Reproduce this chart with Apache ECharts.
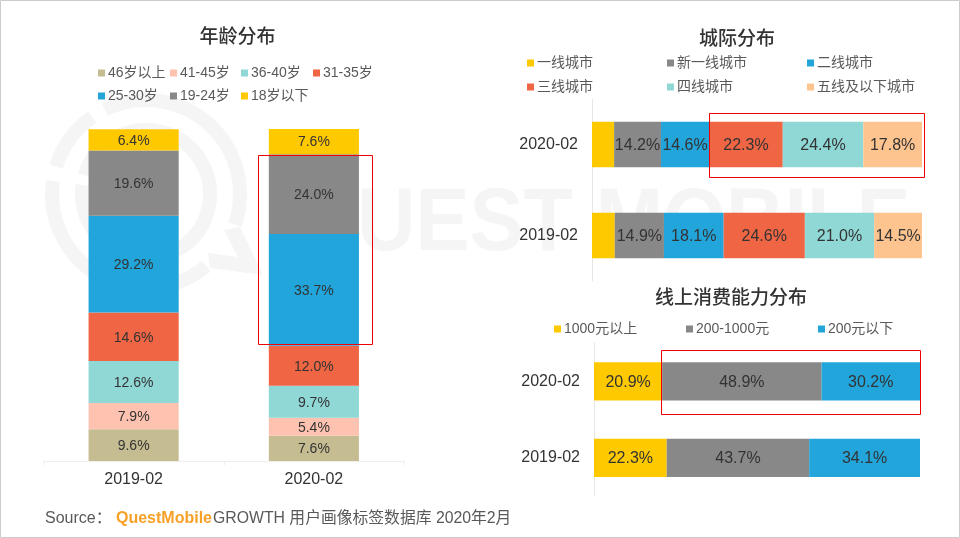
<!DOCTYPE html>
<html>
<head>
<meta charset="utf-8">
<title>用户画像</title>
<style>
  html, body { margin: 0; padding: 0; background: #fff; }
  #main { width: 960px; height: 538px; }
</style>
<script src="https://cdn.jsdelivr.net/npm/echarts@6/dist/echarts.min.js"></script>
</head>
<body>
<div id="main"></div>
<script>
// data
const ageCategories = ['2019-02', '2020-02']
const ageNames = ['46岁以上', '41-45岁', '36-40岁', '31-35岁', '25-30岁', '19-24岁', '18岁以下']
const age46 = [9.6, 7.6]
const age41 = [7.9, 5.4]
const age36 = [12.6, 9.7]
const age31 = [14.6, 12.0]
const age25 = [29.2, 33.7]
const age19 = [19.6, 24.0]
const age18 = [6.4, 7.6]

const cityCategories = ['2019-02', '2020-02']
const cityNames = ['一线城市', '新一线城市', '二线城市', '三线城市', '四线城市', '五线及以下城市']
const cityTier1 = [6.9, 6.7]
const cityNewTier1 = [14.9, 14.2]
const cityTier2 = [18.1, 14.6]
const cityTier3 = [24.6, 22.3]
const cityTier4 = [21.0, 24.4]
const cityTier5 = [14.5, 17.8]

const spendCategories = ['2019-02', '2020-02']
const spendNames = ['1000元以上', '200-1000元', '200元以下']
const spendHigh = [22.3, 20.9]
const spendMid = [43.7, 48.9]
const spendLow = [34.1, 30.2]

const YELLOW = '#ffc900'
const GRAY = '#888888'
const BLUE = '#22a5db'
const ORANGE = '#f06543'
const TEAL = '#8fd8d6'
const PINK = '#fec2b1'
const TAN = '#c6bc91'
const PEACH = '#fec48f'

const FONT = '"Liberation Sans", "Noto Sans CJK SC", sans-serif'
const WATERMARK = '#f5f5f5'

function stackSeries(name, data, color, gridIndex, fontSize, showLabel) {
  return {
    name: name,
    type: 'bar',
    stack: 'g' + gridIndex,
    xAxisIndex: gridIndex,
    yAxisIndex: gridIndex,
    data: data,
    barWidth: '50%',
    itemStyle: { color: color },
    animation: false,
    label: {
      show: showLabel,
      position: 'inside',
      offset: [0, 1],
      color: '#333',
      fontFamily: FONT,
      fontSize: fontSize,
      formatter: function (p) { return p.value.toFixed(1) + '%' }
    }
  }
}

function legendItem(name, x, y) {
  return {
    data: [name],
    left: x,
    top: y - 7,
    padding: 0,
    itemWidth: 7,
    itemHeight: 7,
    icon: 'rect',
    selectedMode: false,
    textStyle: { color: '#595959', fontSize: 14, fontFamily: FONT, padding: [0, 0, 0, -2] }
  }
}

function titleItem(text, x, y) {
  return {
    text: text,
    left: x,
    top: y - 10,
    textAlign: 'center',
    padding: 0,
    textStyle: { color: '#333', fontSize: 19, fontWeight: 500, fontFamily: '"Noto Sans CJK SC", sans-serif' }
  }
}

function redBox(x, y, w, h) {
  return {
    type: 'rect',
    z: 100,
    shape: { x: x, y: y, width: w, height: h },
    style: { fill: 'none', stroke: '#f00000', lineWidth: 1 }
  }
}

function ringArc(r, from, to) {
  return {
    type: 'arc',
    z: -10,
    shape: { cx: 146, cy: 194, r: r, startAngle: from * Math.PI / 180, endAngle: to * Math.PI / 180, clockwise: true },
    style: { fill: 'none', stroke: WATERMARK, lineWidth: 14 }
  }
}

const axisLabel = { color: '#333', fontSize: 16, fontFamily: FONT }
const axisLine = { show: true, lineStyle: { color: '#e6e6e6', width: 1 } }

const chart = echarts.init(document.getElementById('main'))
chart.setOption({
  animation: false,
  backgroundColor: '#fff',
  title: [
    titleItem('年龄分布', 237.5, 36),
    titleItem('城际分布', 737, 38),
    titleItem('线上消费能力分布', 731, 297)
  ],
  legend: [
    legendItem(ageNames[0], 98, 73),
    legendItem(ageNames[1], 170, 73),
    legendItem(ageNames[2], 241, 73),
    legendItem(ageNames[3], 313, 73),
    legendItem(ageNames[4], 98, 96),
    legendItem(ageNames[5], 170, 96),
    legendItem(ageNames[6], 241, 96),
    legendItem(cityNames[0], 527, 63),
    legendItem(cityNames[1], 667, 63),
    legendItem(cityNames[2], 807, 63),
    legendItem(cityNames[3], 527, 87),
    legendItem(cityNames[4], 667, 87),
    legendItem(cityNames[5], 807, 87),
    legendItem(spendNames[0], 554, 329),
    legendItem(spendNames[1], 686, 329),
    legendItem(spendNames[2], 818, 329)
  ],
  grid: [
    { left: 43.5, top: 129, width: 360.5, height: 332 },
    { left: 592, top: 99, width: 330, height: 182 },
    { left: 594, top: 343, width: 326, height: 153 }
  ],
  xAxis: [
    { gridIndex: 0, type: 'category', data: ageCategories, axisLabel: Object.assign({ margin: 11 }, axisLabel), axisLine: { show: true, lineStyle: { color: '#eeeeee' } }, axisTick: { show: true, length: 4, lineStyle: { color: '#eeeeee' } } },
    { gridIndex: 1, type: 'value', min: 0, max: 100, show: false },
    { gridIndex: 2, type: 'value', min: 0, max: 100, show: false }
  ],
  yAxis: [
    { gridIndex: 0, type: 'value', min: 0, max: 100, show: false },
    { gridIndex: 1, type: 'category', data: cityCategories, axisLabel: Object.assign({ margin: 14 }, axisLabel), axisLine: axisLine, axisTick: { show: false } },
    { gridIndex: 2, type: 'category', data: spendCategories, axisLabel: Object.assign({ margin: 14 }, axisLabel), axisLine: axisLine, axisTick: { show: false } }
  ],
  series: [
    stackSeries(ageNames[0], age46, TAN, 0, 14, true),
    stackSeries(ageNames[1], age41, PINK, 0, 14, true),
    stackSeries(ageNames[2], age36, TEAL, 0, 14, true),
    stackSeries(ageNames[3], age31, ORANGE, 0, 14, true),
    stackSeries(ageNames[4], age25, BLUE, 0, 14, true),
    stackSeries(ageNames[5], age19, GRAY, 0, 14, true),
    stackSeries(ageNames[6], age18, YELLOW, 0, 14, true),
    stackSeries(cityNames[0], cityTier1, YELLOW, 1, 16, false),
    stackSeries(cityNames[1], cityNewTier1, GRAY, 1, 16, true),
    stackSeries(cityNames[2], cityTier2, BLUE, 1, 16, true),
    stackSeries(cityNames[3], cityTier3, ORANGE, 1, 16, true),
    stackSeries(cityNames[4], cityTier4, TEAL, 1, 16, true),
    stackSeries(cityNames[5], cityTier5, PEACH, 1, 16, true),
    stackSeries(spendNames[0], spendHigh, YELLOW, 2, 16, true),
    stackSeries(spendNames[1], spendMid, GRAY, 2, 16, true),
    stackSeries(spendNames[2], spendLow, BLUE, 2, 16, true)
  ],
  graphic: {
    elements: [
      // watermark
      ringArc(94, 244, 19),
      ringArc(94, 50, 188),
      ringArc(94, 197, 235),
      ringArc(64, 197, 188),
      {
        type: 'polygon',
        z: -10,
        shape: { points: [[240, 227], [263, 275], [210, 268], [208, 253], [238, 257], [224, 230]] },
        style: { fill: WATERMARK }
      },
      {
        type: 'text',
        z: -10,
        x: 357,
        y: 225,
        scaleY: 1.1,
        style: { text: 'UEST MOBILE', fill: WATERMARK, font: 'bold 81px "Liberation Sans"', verticalAlign: 'middle' }
      },
      // highlight boxes
      redBox(258.5, 155.5, 114, 189),
      redBox(709.5, 113.5, 215, 64),
      redBox(661.5, 350.5, 259, 64),
      // source line
      { type: 'text', x: 45, y: 519, style: { text: 'Source：', fill: '#595959', font: '16px ' + FONT, verticalAlign: 'middle' } },
      { type: 'text', x: 116, y: 519, style: { text: 'QuestMobile', fill: '#f7a128', font: 'bold 16px "Liberation Sans"', verticalAlign: 'middle' } },
      { type: 'text', x: 213, y: 519, style: { text: 'GROWTH 用户画像标签数据库 2020年2月', fill: '#595959', font: '15.8px ' + FONT, verticalAlign: 'middle' } },
      // page frame
      { type: 'rect', z: 200, shape: { x: 0.5, y: 0.5, width: 959, height: 537 }, style: { fill: 'none', stroke: '#cccccc', lineWidth: 1 } }
    ]
  }
})
</script>
</body>
</html>
